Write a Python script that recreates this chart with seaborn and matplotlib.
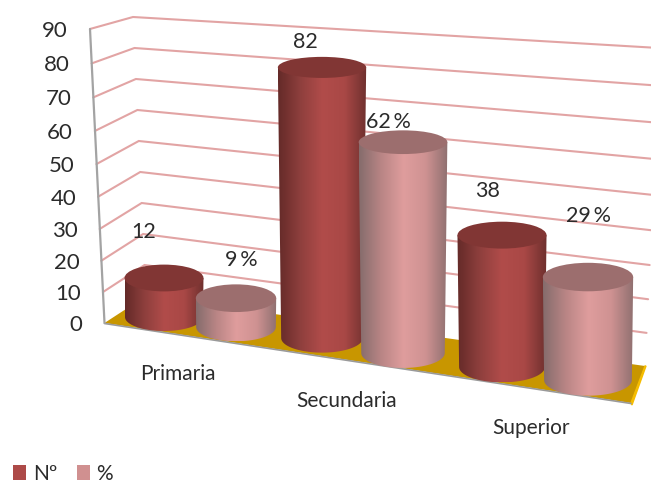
import numpy as np
import pandas as pd
import matplotlib
matplotlib.use("Agg")
import matplotlib.pyplot as plt
from matplotlib.colors import LinearSegmentedColormap
from matplotlib.patches import Polygon, Ellipse, PathPatch, Patch
from matplotlib.path import Path
import seaborn as sns

# ---- data ----
categories = ["Primaria", "Secundaria", "Superior"]
series_names = ["Nº", "%"]
values_n = [12, 82, 38]
values_pct = [9, 62, 29]
y_ticks = [0, 10, 20, 30, 40, 50, 60, 70, 80, 90]

# ---- styles ----
W, H = 651, 486
FONT = "Lato"
TXT = "#2b2b2b"
bar_colors = {"Nº": "#ad4a48", "%": "#d09090"}
top_colors = {"Nº": "#813634", "%": "#9c6e6e"}
ramps = {
    "Nº": ["#642a28", "#8e3f3d", "#b14c4a", "#a94846", "#6e302e"],
    "%": ["#856c6c", "#b98585", "#df9d9d", "#cf9292", "#8f7070"],
}
label_offsets = {"Nº": [(-20, -46), (-17, -25), (-14, -44)],
                 "%": [(5, -38), (-15, -20), (0, -61)]}
# perspective of the floor row of each series: (constant, linear, quadratic) in category index
row_x = {"Nº": (164, 147, 11), "%": (236, 158, 9)}
row_y = {"Nº": (317, 17, 4), "%": (327, 25.5, 0.5)}
row_unit = {"Nº": (3.25, -0.01, 0.06), "%": (3.2, 0.225, -0.025)}

sns.set_theme(style="white")
plt.rcParams["font.family"] = [FONT, "DejaVu Sans"]

df = pd.DataFrame({
    "categoria": categories * 2,
    "serie": ["Nº"] * 3 + ["%"] * 3,
    "valor": values_n + values_pct,
})

fig = plt.figure(figsize=(W / 100, H / 100), dpi=100, facecolor="white")

# seaborn computes the grouped bar layout on a scale axes (category units, value units)
scale_ax = fig.add_axes([0, 0, 1, 1])
sns.barplot(data=df, x="categoria", y="valor", hue="serie", hue_order=series_names,
            order=categories, palette=bar_colors, width=0.914, gap=0, errorbar=None,
            legend=False, ax=scale_ax)
scale_ax.set_visible(False)

ax = fig.add_axes([0, 0, 1, 1])
ax.set_xlim(0, W)
ax.set_ylim(H, 0)
ax.axis("off")


def quad(c, u):
    return c[0] + c[1] * u + c[2] * u ** 2


def front_axis(v):
    return 104.5 - 14.5 * v / 90, 323 - 3.067 * v - 0.00222 * v ** 2


def back_axis(v):
    return 146 - 13 * v / 90, 296 - 3.1 * v


def right_edge(v):
    return 645 + 14 * v / 90, 366 - 3.283 * v - 0.00278 * v ** 2


# ---- walls and floor ----
for v in y_ticks[1:]:
    pts = [front_axis(v), back_axis(v), right_edge(v)]
    ax.plot(*zip(*pts), color="#e2a4a4", lw=1.5, zorder=1, solid_joinstyle="miter")

fl, bl, br = front_axis(0), back_axis(0), right_edge(0)
fr = (631, 403)
ax.add_patch(Polygon([fl, bl, br, fr], closed=True, fc="#c89600", ec="none", zorder=2))
ax.add_patch(Polygon([br, (br[0] + 1, br[1]), (fr[0] + 1, fr[1] + 2), fr], closed=True,
                     fc="#f5bc00", ec="#f5bc00", lw=1, zorder=2))
ax.plot([fl[0], fr[0]], [fl[1] + 0.5, fr[1] + 0.5], color="#9a9a9a", lw=1.2, zorder=2)
ax.plot([front_axis(90)[0], fl[0]], [front_axis(90)[1], fl[1]], color="#a3a3a3", lw=1.6, zorder=3)

for v in y_ticks:
    x, y = front_axis(v)
    ax.text(x - 22, y + 2, str(v), ha="right", va="center", fontsize=16, color=TXT)


# ---- cylinders ----
def cylinder(center, value, name, z):
    cat = center + 0.2285 if name == "Nº" else center - 0.2285
    cx = quad(row_x[name], cat)
    y0 = quad(row_y[name], cat)
    y1 = y0 - value * quad(row_unit[name], cat)
    rx0 = 39 + 0.0115 * (cx - 164)
    rx1 = rx0 * (1 + 0.001 * value)
    ry0 = 14 + 0.004 * (cx - 164)
    ry1 = ry0 - 0.05 * value
    t = np.linspace(0, np.pi, 60)
    bottom = np.column_stack([cx + rx0 * np.cos(t), y0 + ry0 * np.sin(t)])
    verts = np.vstack([[[cx + rx1, y1]], bottom, [[cx - rx1, y1]], [[cx + rx1, y1]]])
    body = PathPatch(Path(verts, closed=True), transform=ax.transData, fc="none", ec="none")
    ax.add_patch(body)
    cmap = LinearSegmentedColormap.from_list(name + "ramp", ramps[name])
    im = ax.imshow(np.linspace(0, 1, 256)[None, :], cmap=cmap, aspect="auto",
                   extent=(cx - rx1, cx + rx1, y0 + ry0, y1), zorder=z, interpolation="bilinear")
    im.set_clip_path(body)
    ax.add_patch(Ellipse((cx, y1), 2 * rx1, 2 * ry1, fc=top_colors[name], ec="none", zorder=z + 0.5))
    return cx, y1


containers = dict(zip(series_names, scale_ax.containers))
z = 4
for i in range(len(categories)):
    for name in series_names:
        patch = containers[name].patches[i]
        center = patch.get_x() + patch.get_width() / 2
        val = patch.get_height()
        cx, ytop = cylinder(center, val, name, z)
        z += 1
        dx, dy = label_offsets[name][i]
        suffix = "\u2009%" if name == "%" else ""
        ax.text(cx + dx, ytop + dy, f"{val:.0f}{suffix}", ha="center", va="center",
                fontsize=15.5, color=TXT, zorder=20)

# ---- category labels ----
for label, (x, y) in zip(categories, [(178, 374), (347, 401), (531, 428)]):
    ax.text(x, y, label, ha="center", va="center", fontsize=15, color=TXT, zorder=20)

# ---- legend ----
handles = [Patch(fc=bar_colors[n], ec="none", label=n) for n in series_names]
ax.legend(handles=handles, loc="lower left", bbox_to_anchor=(0.0105, -0.008), ncol=2, frameon=False,
          prop={"family": FONT, "size": 15}, labelcolor=TXT, handlelength=0.64, handleheight=0.72,
          handletextpad=0.3, columnspacing=0.95, borderpad=0.3, borderaxespad=0)

ax.set_xlim(0, W)
ax.set_ylim(H, 0)
fig.savefig("out.png", dpi=100, facecolor="white")
